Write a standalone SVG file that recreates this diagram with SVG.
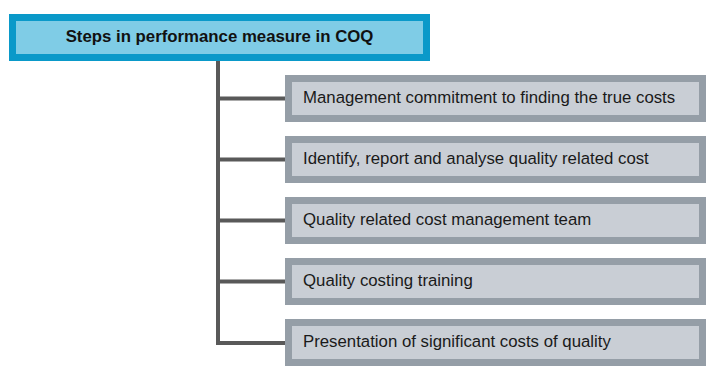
<svg xmlns="http://www.w3.org/2000/svg" width="725" height="383" viewBox="0 0 725 383">
<style>
.box{fill:#C9CED5;stroke:#959EA7;stroke-width:7}
.lbl{font-family:"Liberation Sans",Arial,sans-serif;font-size:16.8px;fill:#1a1a1a}
.con{stroke:#595959;stroke-width:4;fill:none}
</style>
<rect width="725" height="383" fill="#ffffff"/>
<g id="connectors">
<path class="con" d="M218 61 V343 H286"/>
<path class="con" d="M218 98.5 H286 M218 159.5 H286 M218 220.5 H286 M218 281.5 H286"/>
</g>
<g id="title">
<rect x="12.5" y="17.5" width="414" height="40" fill="#7FCCE6" stroke="#0A99C9" stroke-width="7"/>
<text x="219.5" y="41.5" text-anchor="middle" font-family="'Liberation Sans',Arial,sans-serif" font-size="16.8" font-weight="bold" fill="#111">Steps in performance measure in COQ</text>
</g>
<g id="step1"><rect class="box" x="288.5" y="78.5" width="414" height="40"/><text class="lbl" x="303" y="102.5">Management  commitment to finding the true costs</text></g>
<g id="step2"><rect class="box" x="288.5" y="139.5" width="414" height="40"/><text class="lbl" x="303" y="163.5">Identify, report and analyse quality related cost</text></g>
<g id="step3"><rect class="box" x="288.5" y="200.5" width="414" height="40"/><text class="lbl" x="303" y="224.5">Quality related cost management team</text></g>
<g id="step4"><rect class="box" x="288.5" y="261.5" width="414" height="40"/><text class="lbl" x="303" y="285.5">Quality costing training</text></g>
<g id="step5"><rect class="box" x="288.5" y="322.5" width="414" height="40"/><text class="lbl" x="303" y="346.5">Presentation of significant costs of quality</text></g>
</svg>
